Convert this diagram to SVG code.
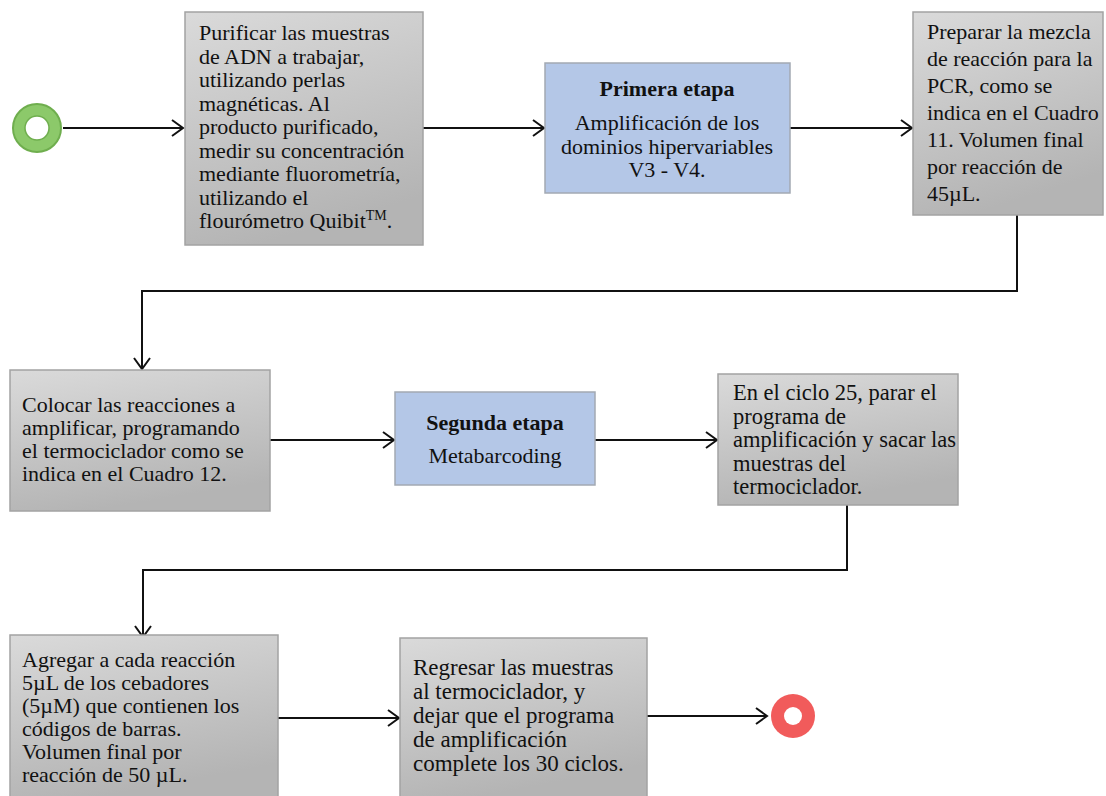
<svg xmlns="http://www.w3.org/2000/svg" width="1106" height="796" viewBox="0 0 1106 796">
<style>
.box{fill:url(#g);stroke:#a3a3a3;stroke-width:1.5}
.blue{fill:#b4c7e7;stroke:#a3a9b3;stroke-width:1.5}
.t{font-family:"Liberation Serif","Times New Roman",serif;font-size:22px;fill:#111}
.b{font-weight:bold}
.c{stroke:#111;stroke-width:2;fill:none;marker-end:url(#a)}
</style>
<defs>
<linearGradient id="g" x1="0" y1="0" x2="0.3" y2="1">
<stop offset="0" stop-color="#dadada"/>
<stop offset="1" stop-color="#b4b4b4"/>
</linearGradient>
<marker id="a" markerUnits="userSpaceOnUse" markerWidth="14" markerHeight="20" refX="12" refY="10" orient="auto">
<path d="M1,2 L12,10 L1,18" fill="none" stroke="#111" stroke-width="2"/>
</marker>
</defs>
<g id="connectors">
<path class="c" d="M63,128 H183"/>
<path class="c" d="M423,128 H544"/>
<path class="c" d="M790,128 H912"/>
<path class="c" d="M1017,215 V291 H142 V369"/>
<path class="c" d="M270,440 H394"/>
<path class="c" d="M595,440 H717"/>
<path class="c" d="M847,505 V570 H143 V637"/>
<path class="c" d="M278,718 H399"/>
<path class="c" d="M647,716 H767"/>
</g>
<g id="start">
<circle cx="37" cy="128" r="24" fill="#8cc96a" stroke="#6fae4e" stroke-width="2"/>
<circle cx="37" cy="128" r="12" fill="#fff" stroke="#6fae4e" stroke-width="1.5"/>
</g>
<g id="n1">
<rect class="box" x="185" y="12" width="238" height="233"/>
<text class="t"><tspan x="199" y="40">Purificar las muestras</tspan><tspan x="199" y="63.5">de ADN a trabajar,</tspan><tspan x="199" y="87">utilizando perlas</tspan><tspan x="199" y="110.5">magnéticas. Al</tspan><tspan x="199" y="134">producto purificado,</tspan><tspan x="199" y="157.5">medir su concentración</tspan><tspan x="199" y="181">mediante fluorometría,</tspan><tspan x="199" y="204.5">utilizando  el</tspan><tspan x="199" y="228">flourómetro Quibit</tspan><tspan dy="-8" font-size="14">TM</tspan><tspan dy="8">.</tspan></text>
</g>
<g id="n2">
<rect class="blue" x="545" y="63" width="245" height="130"/>
<text class="t" text-anchor="middle"><tspan class="b" x="667" y="96">Primera etapa</tspan><tspan x="667" y="130">Amplificación de los</tspan><tspan x="667" y="153.5">dominios hipervariables</tspan><tspan x="667" y="177">V3 - V4.</tspan></text>
</g>
<g id="n3">
<rect class="box" x="913" y="12" width="190" height="203"/>
<text class="t"><tspan x="927" y="39">Preparar la mezcla</tspan><tspan x="927" y="66">de reacción para la</tspan><tspan x="927" y="93">PCR, como se</tspan><tspan x="927" y="120">indica en el Cuadro</tspan><tspan x="927" y="147">11. Volumen final</tspan><tspan x="927" y="174">por reacción de</tspan><tspan x="927" y="201">45µL.</tspan></text>
</g>
<g id="n4">
<rect class="box" x="10" y="370" width="260" height="141"/>
<text class="t"><tspan x="22" y="412">Colocar las reacciones a</tspan><tspan x="22" y="435">amplificar, programando</tspan><tspan x="22" y="458">el termociclador como se</tspan><tspan x="22" y="481">indica en el Cuadro 12.</tspan></text>
</g>
<g id="n5">
<rect class="blue" x="395" y="392" width="200" height="93"/>
<text class="t" text-anchor="middle"><tspan class="b" x="495" y="430">Segunda etapa</tspan><tspan x="495" y="463">Metabarcoding</tspan></text>
</g>
<g id="n6">
<rect class="box" x="718" y="374" width="240" height="131"/>
<text class="t" style="font-size:22.5px"><tspan x="733" y="400">En el ciclo 25, parar el</tspan><tspan x="733" y="423.5">programa de</tspan><tspan x="733" y="447">amplificación y sacar las</tspan><tspan x="733" y="470.5">muestras del</tspan><tspan x="733" y="494">termociclador.</tspan></text>
</g>
<g id="n7">
<rect class="box" x="10" y="635" width="268" height="163"/>
<text class="t"><tspan x="22" y="667">Agregar a cada reacción</tspan><tspan x="22" y="690">5µL de los cebadores</tspan><tspan x="22" y="713">(5µM) que contienen los</tspan><tspan x="22" y="736">códigos de barras.</tspan><tspan x="22" y="759">Volumen final por</tspan><tspan x="22" y="782">reacción de 50 µL.</tspan></text>
</g>
<g id="n8">
<rect class="box" x="400" y="638" width="247" height="160"/>
<text class="t" style="font-size:23px"><tspan x="413" y="675">Regresar las muestras</tspan><tspan x="413" y="699">al termociclador, y</tspan><tspan x="413" y="723">dejar que el programa</tspan><tspan x="413" y="747">de amplificación</tspan><tspan x="413" y="771">complete los 30 ciclos.</tspan></text>
</g>
<g id="end">
<circle cx="793" cy="716" r="22" fill="#f15b5b"/>
<circle cx="793" cy="716" r="9" fill="#fff"/>
</g>
</svg>
